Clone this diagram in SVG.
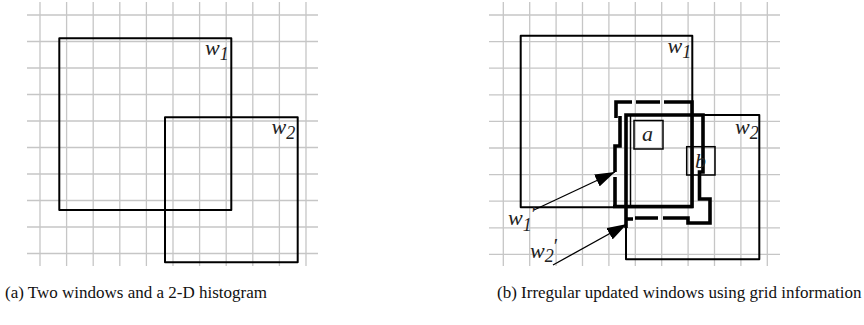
<svg xmlns="http://www.w3.org/2000/svg" width="864" height="325" viewBox="0 0 864 325">
<style>
.grid{stroke:#c6c6c6;stroke-width:1.3;fill:none}
.win{stroke:#000;stroke-width:2;fill:none;stroke-linejoin:round}
.box{stroke:#000;stroke-width:1.5;fill:none}
.thick{stroke:#000;stroke-width:3.6;fill:none;stroke-linejoin:miter;stroke-linecap:butt}
.conn{stroke:#000;stroke-width:1.3;fill:none}
.lbl{font-family:"Liberation Serif","Times New Roman",serif;font-style:italic;font-size:22px;fill:#222}
.sub{font-size:18px}
.pr{font-size:20px;font-style:normal}
.cap{font-family:"Liberation Serif","Times New Roman",serif;font-size:17px;fill:#111}
</style>
<defs>
<marker id="ah" markerUnits="userSpaceOnUse" markerWidth="20" markerHeight="13" refX="20" refY="6.5" orient="auto">
<path d="M0,0 L20,6.5 L0,13 z" fill="#000"/>
</marker>
</defs>
<rect width="864" height="325" fill="#fff"/>

<g id="grid-a" class="grid">
<path d="M40,2V266M66.6,2V266M93.2,2V266M119.8,2V266M146.4,2V266M173,2V266M199.6,2V266M226.2,2V266M252.8,2V266M279.4,2V266M306,2V266"/>
<path d="M27,15H318M27,41.5H318M27,68H318M27,94.5H318M27,121H318M27,147.5H318M27,174H318M27,200.5H318M27,227H318M27,253.5H318"/>
</g>

<g id="grid-b" class="grid">
<path d="M503.3,2V266M529.7,2V266M556.1,2V266M582.5,2V266M608.9,2V266M635.3,2V266M661.7,2V266M688.1,2V266M714.5,2V266M740.9,2V266M767.3,2V266"/>
<path d="M489,15H780M489,41.6H780M489,68.2H780M489,94.8H780M489,121.4H780M489,148H780M489,174.6H780M489,201.2H780M489,227.8H780M489,254.4H780"/>
</g>

<g id="a-w1">
<rect class="win" x="59.3" y="38.3" width="172" height="171.7"/>
<text class="lbl" x="205" y="55">w<tspan class="sub" dy="5">1</tspan></text>
</g>
<g id="a-w2">
<rect class="win" x="165" y="117.3" width="132.7" height="145"/>
<text class="lbl" x="271.5" y="133.5">w<tspan class="sub" dy="5">2</tspan></text>
</g>

<g id="b-w1">
<rect class="win" x="520.7" y="35.7" width="171.6" height="171.6"/>
<text class="lbl" x="667.5" y="53">w<tspan class="sub" dy="5">1</tspan></text>
</g>
<g id="b-w2">
<rect class="win" x="626" y="115" width="133.3" height="144.3"/>
<text class="lbl" x="735" y="133.5">w<tspan class="sub" dy="5">2</tspan></text>
</g>

<g id="b-w1prime">
<path class="thick" d="M616,118V102H632M636,102H660M664,102H692V206.5H613M620,116V146H615V172M615,177V206.5"/>
<text class="lbl" x="508" y="225">w<tspan class="sub" dy="6">1</tspan><tspan class="pr" dy="-10">′</tspan></text>
</g>
<g id="b-w2prime">
<path class="thick" d="M626,228V115H703V172H699.5V199H710V223H688V218H663M658,218H635M633,219H626"/>
<line class="box" x1="630.5" y1="116" x2="630.5" y2="206"/>
<text class="lbl" x="530" y="258">w<tspan class="sub" dy="4">2</tspan><tspan class="pr" dy="-9">′</tspan></text>
</g>

<g id="b-a">
<rect class="box" x="634" y="120.5" width="29" height="28.5"/>
<text class="lbl" x="642" y="141">a</text>
</g>
<g id="b-b">
<rect class="box" x="686.7" y="146.7" width="28.3" height="28.3"/>
<text class="lbl" x="695" y="168">b</text>
</g>

<g id="connectors">
<line class="conn" x1="534" y1="210" x2="615" y2="172" marker-end="url(#ah)"/>
<line class="conn" x1="553" y1="265" x2="627" y2="224" marker-end="url(#ah)"/>
</g>

<g id="captions">
<text class="cap" x="5" y="298">(a) Two windows and a 2-D histogram</text>
<text class="cap" x="497" y="298">(b) Irregular updated windows using grid information</text>
</g>
</svg>
